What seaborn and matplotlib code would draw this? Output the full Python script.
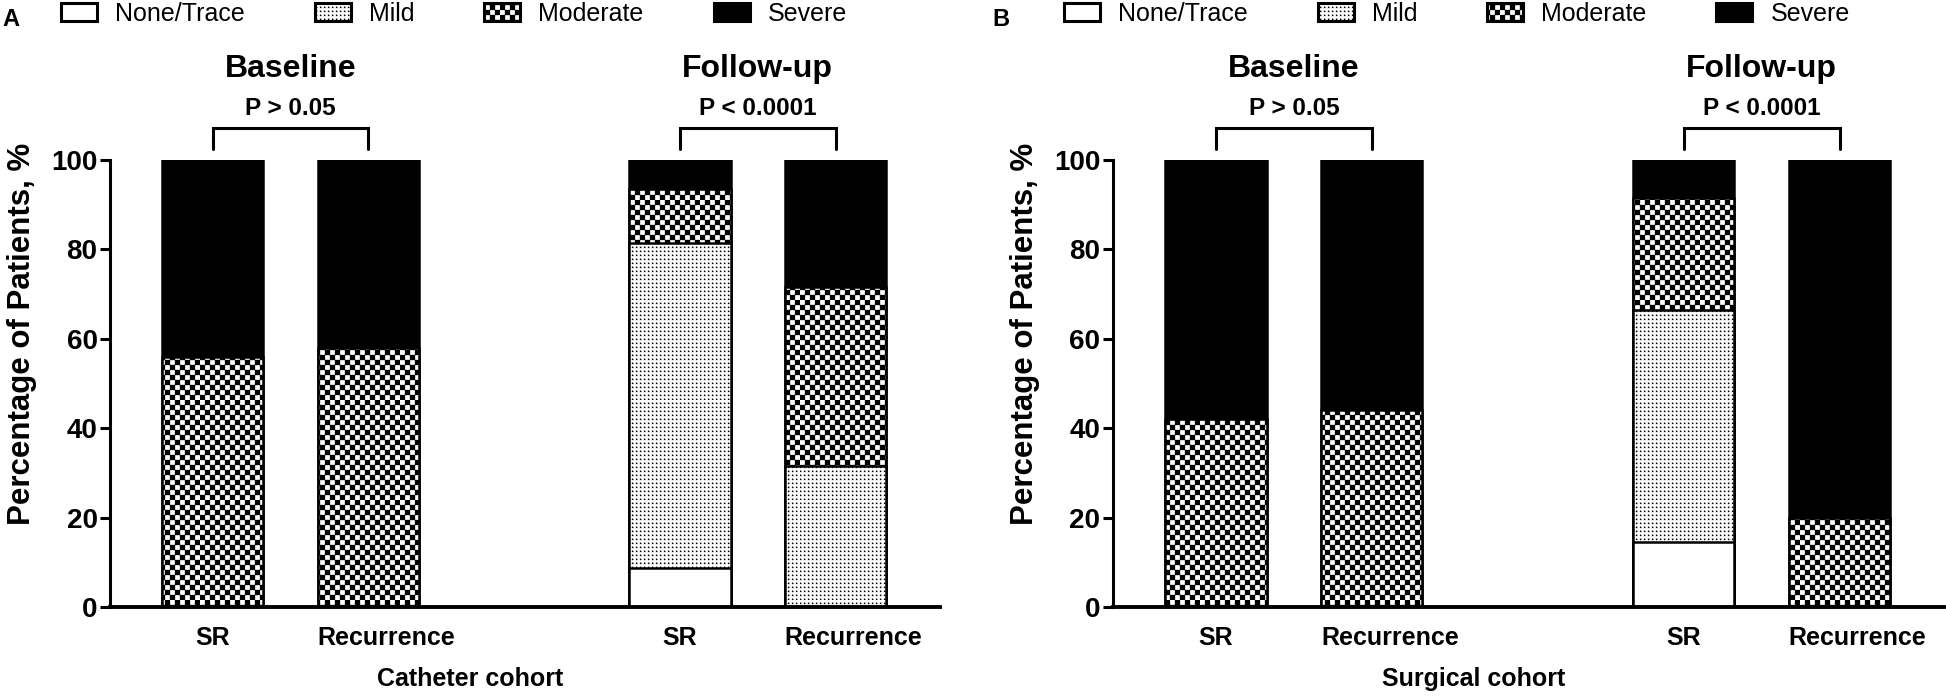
import warnings
import numpy as np
import pandas as pd
import seaborn as sns
import matplotlib
matplotlib.use("Agg")
import matplotlib.pyplot as plt
import matplotlib.hatch as mhatch
import matplotlib.transforms as mtransforms
from matplotlib.path import Path
from matplotlib.patches import Patch

warnings.filterwarnings("ignore")

# ---- data ----
bars = ["Baseline SR", "Baseline Recurrence", "Follow-up SR", "Follow-up Recurrence"]
order = ["Baseline SR", "Baseline Recurrence", "", "Follow-up SR", "Follow-up Recurrence"]
tick_names = ["SR", "Recurrence", "", "SR", "Recurrence"]
grades = ["None/Trace", "Mild", "Moderate", "Severe"]
groups = ["Baseline", "Follow-up"]

catheter_none = [0, 0, 8.7, 0]
catheter_mild = [0, 0, 72.8, 31.5]
catheter_moderate = [56, 58, 12, 40]
catheter_severe = [44, 42, 6.5, 28.5]
catheter_p = ["P > 0.05", "P < 0.0001"]

surgical_none = [0, 0, 14.5, 0]
surgical_mild = [0, 0, 52, 0]
surgical_moderate = [42, 44, 25, 20]
surgical_severe = [58, 56, 8.5, 80]
surgical_p = ["P > 0.05", "P < 0.0001"]


# custom fill patterns (checkerboard + fine dots), tiles are 1 inch
class SquareGrid(mhatch.HatchPatternBase):
    char = "Q"
    n = 20
    frac = 1.0
    checker = True

    def __init__(self, hatch, density):
        self.on = self.char in hatch
        self.cells = []
        if self.on:
            for i in range(self.n):
                for j in range(self.n):
                    if not self.checker or (i + j) % 2 == 0:
                        self.cells.append((i, j))
        self.num_vertices = len(self.cells) * 5

    def set_vertices_and_codes(self, vertices, codes):
        s = 1.0 / self.n
        sq = np.array([[0, 0], [1, 0], [1, 1], [0, 1], [0, 0]]) * s * self.frac
        vertices[:] = np.concatenate([sq + [i * s, j * s] for i, j in self.cells])
        codes[:] = np.tile([Path.MOVETO, Path.LINETO, Path.LINETO,
                            Path.LINETO, Path.CLOSEPOLY], len(self.cells))


class DotGrid(SquareGrid):
    char = "D"
    n = 25
    frac = 0.3
    checker = False


mhatch._hatch_types.append(SquareGrid)
mhatch._hatch_types.append(DotGrid)

sns.set_style("ticks")
plt.rcParams["font.family"] = ["Liberation Sans", "DejaVu Sans"]
plt.rcParams["font.weight"] = "bold"
plt.rcParams["axes.labelweight"] = "bold"
for key in ["text.color", "axes.labelcolor", "xtick.color", "ytick.color", "axes.edgecolor"]:
    plt.rcParams[key] = "black"
plt.rcParams["hatch.linewidth"] = 0.2
plt.rcParams["hatch.color"] = "black"

face = {"None/Trace": "white", "Mild": "white", "Moderate": "white", "Severe": "black"}
hatches = {"None/Trace": None, "Mild": "D", "Moderate": "Q", "Severe": None}

fig = plt.figure(figsize=(19.46, 7), dpi=100)
ax_a = fig.add_axes([110 / 1946, 93 / 700, 830 / 1946, 447 / 700])
ax_b = fig.add_axes([1113 / 1946, 93 / 700, 831 / 1946, 447 / 700])


def draw_panel(ax, none, mild, moderate, severe, cohort, pvals, letter, letter_x):
    df = pd.DataFrame({"None/Trace": none, "Mild": mild,
                       "Moderate": moderate, "Severe": severe})
    cum = df[grades].cumsum(axis=1)
    cum["bar"] = bars
    # stacked bars: draw tallest cumulative layer first
    for g in reversed(grades):
        sns.barplot(data=cum, x="bar", y=g, order=order, width=0.65,
                    color=face[g], hatch=hatches[g], edgecolor="black",
                    linewidth=1.8, saturation=1, errorbar=None, ax=ax)

    ax.set_ylim(0, 100)
    ax.set_xlim(-0.66, 4.67)
    ax.set_yticks([0, 20, 40, 60, 80, 100])
    ax.set_xticks(range(len(order)))
    ax.set_xticklabels(tick_names)
    sns.despine(ax=ax)
    ax.spines["left"].set_linewidth(2.2)
    ax.spines["bottom"].set_linewidth(2.8)
    ax.tick_params(axis="y", length=7, width=2.2, pad=2, labelsize=20)
    ax.tick_params(axis="x", length=0, pad=14, labelsize=18)

    shift = mtransforms.ScaledTranslation(0.18, 0, fig.dpi_scale_trans)
    for lab in ax.get_xticklabels():
        if lab.get_text() == "Recurrence":
            lab.set_transform(lab.get_transform() + shift)

    ax.set_ylabel("Percentage of Patients, %", fontsize=22.5, fontweight="bold")
    ax.yaxis.set_label_coords(-0.088, 0.61)
    ax.set_xlabel(cohort, fontsize=18, fontweight="bold")
    ax.xaxis.set_label_coords(0.434, -0.134)

    # group titles, p-values and brackets
    for k, (name, p) in enumerate(zip(groups, pvals)):
        x0, x1 = 3 * k, 3 * k + 1
        xm = (x0 + x1) / 2
        ax.text(xm, 118.6, name, ha="center", va="baseline", fontsize=23, clip_on=False)
        ax.text(xm, 110.1, p, ha="center", va="baseline", fontsize=17.5, clip_on=False)
        ax.plot([x0, x0, x1, x1], [102.5, 107.2, 107.2, 102.5], color="black",
                lw=2.2, clip_on=False, solid_joinstyle="miter")

    handles = [Patch(facecolor=face[g], edgecolor="black", hatch=hatches[g],
                     linewidth=2.2, label=g) for g in grades]
    ax.legend(handles=handles, loc="center left", bbox_to_anchor=(-0.059, 1.327),
              ncol=4, frameon=False, prop={"size": 18, "weight": "normal"},
              handlelength=1.44, handleheight=0.76, handletextpad=0.72,
              columnspacing=2.8, borderpad=0, borderaxespad=0)

    fig.text(letter_x / 1946, 1 - 20 / 700, letter, ha="center", va="center",
             fontsize=17, fontweight="bold")


draw_panel(ax_a, catheter_none, catheter_mild, catheter_moderate, catheter_severe,
           "Catheter cohort", catheter_p, "A", 11)
draw_panel(ax_b, surgical_none, surgical_mild, surgical_moderate, surgical_severe,
           "Surgical cohort", surgical_p, "B", 1001)

fig.savefig("out.png", dpi=100)
